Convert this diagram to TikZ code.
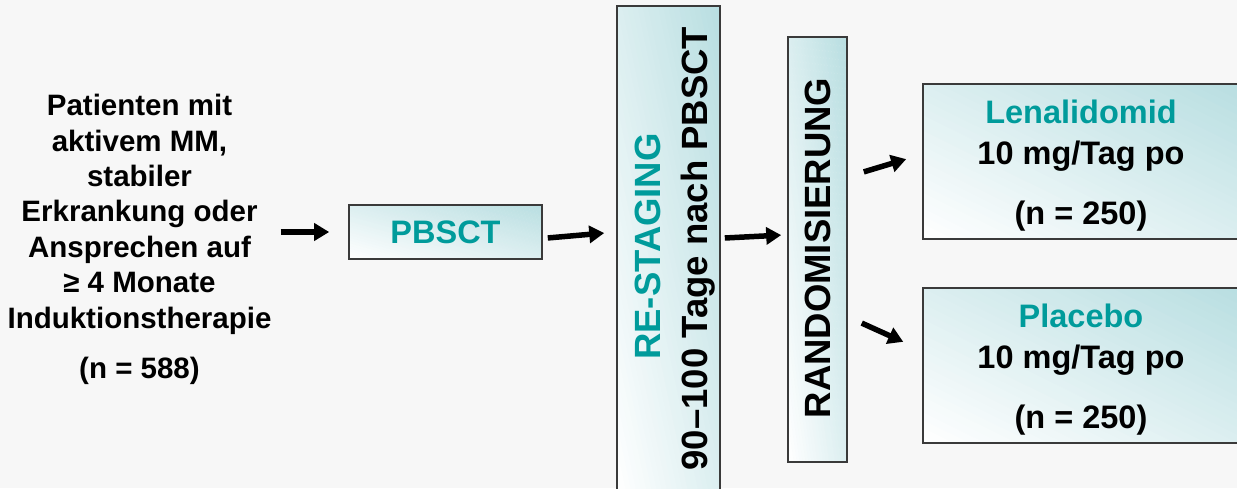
\documentclass[tikz,border=0pt]{standalone}
\usepackage{fontspec}
\setmainfont{Liberation Sans}
\usetikzlibrary{arrows.meta}

\definecolor{pagebg}{HTML}{F7F7F7}
\definecolor{accent}{HTML}{009B9B}
\definecolor{panelteal}{HTML}{B8DEE1}
\definecolor{frame}{HTML}{3A3A3A}

% framed box with a diagonal white-to-teal fill (white at the lower left,
% teal at the upper right); arguments: name, left, top, right, bottom
\newcommand{\gradpanel}[5]{%
  \pgfmathsetmacro{\gpw}{#4-#2}%
  \pgfmathsetmacro{\gph}{#5-#3}%
  \begin{scope}
    \clip (#2,#3) rectangle (#4,#5);
    \foreach \k in {0,...,39}{%
      \pgfmathtruncatemacro{\gpct}{(\k+0.5)*2.5}%
      \pgfmathsetmacro{\gsa}{\k/20}%
      \pgfmathsetmacro{\gsb}{(\k+1.1)/20}%
      \fill[panelteal!\gpct!white] ({#2+\gsa*\gpw},#5) -- ({#2+\gsb*\gpw},#5)
        -- (#2,{#5-\gsb*\gph}) -- (#2,{#5-\gsa*\gph}) -- cycle;
    }
  \end{scope}
  \node[panel, minimum width=\gpw pt, minimum height=\gph pt] (#1)
    at ({(#2+#4)/2},{(#3+#5)/2}) {};
}

\begin{document}
\begin{tikzpicture}[x=1pt, y=-1pt,
  panel/.style={draw=frame, line width=1.6pt, inner sep=0pt},
  flow/.style={line width=5.5pt,
    -{Triangle[length=15pt, width=17pt]}},
  leadtext/.style={font=\fontsize{29.5}{35.4}\selectfont\bfseries,
    align=center, inner sep=0pt},
  boxtext/.style={font=\fontsize{32.5}{39}\selectfont\bfseries,
    inner sep=0pt, anchor=base},
  sidetext/.style={font=\fontsize{36.5}{44}\selectfont\bfseries,
    inner sep=0pt, anchor=base, rotate=90}
]
% canvas
\fill[pagebg] (0,0) rectangle (1237,488);
\useasboundingbox (0,0) rectangle (1237,488);
\clip (0,0) rectangle (1237,488);

% inclusion criteria
\node[leadtext, anchor=north] (patients) at (139.5,94.2)
  {Patienten mit\\aktivem MM,\\stabiler\\Erkrankung oder\\Ansprechen auf\\%
   ≥ 4 Monate\\Induktionstherapie\\[14.6pt](n = 588)};

% boxes
\gradpanel{pbsct}{349}{205}{542}{259}
\gradpanel{restage}{617}{6}{720}{496}
\gradpanel{rand}{788}{37}{847}{462}
\gradpanel{lena}{923}{84}{1239}{239}
\gradpanel{plac}{923}{288}{1239}{443}

% box labels
\node[boxtext, text=accent] (pbscttxt) at (445.5,243.6) {PBSCT};

\node[sidetext, text=accent] (restagetitle) at (660.6,246.5) {RE-STAGING};
\node[sidetext] (restagetime) at (707,248.5) {90–100 Tage nach PBSCT};
\node[sidetext] (randtxt) at (830.6,248) {RANDOMISIERUNG};

\node[boxtext, text=accent] (lenaname) at (1081,123.5) {Lenalidomid};
\node[boxtext] (lenadose) at (1081,164.5) {10 mg/Tag po};
\node[boxtext] (lenan) at (1081,224.5) {(n = 250)};

\node[boxtext, text=accent] (placname) at (1081,327.5) {Placebo};
\node[boxtext] (placdose) at (1081,368.5) {10 mg/Tag po};
\node[boxtext] (placn) at (1081,428.5) {(n = 250)};

% connectors
\draw[flow, shorten <=9pt, shorten >=19pt]
  (patients.east |- pbsct.west) -- (pbsct.west);
\draw[flow, shorten <=5pt, shorten >=12pt]
  ([yshift=-6.4pt]pbsct.east) -- ([yshift=19pt]restage.west);
\draw[flow, shorten <=4pt, shorten >=6pt]
  ([yshift=12.8pt]restage.east) -- ([yshift=14.7pt]rand.west);
\draw[flow, shorten <=16.7pt, shorten >=16.7pt]
  ([yshift=72.8pt]rand.east) -- ([yshift=7.2pt]lena.west);
\draw[flow, shorten <=15.3pt, shorten >=20.8pt]
  ([yshift=-67.3pt]rand.east) -- ([yshift=15.1pt]plac.west);
\end{tikzpicture}
\end{document}
